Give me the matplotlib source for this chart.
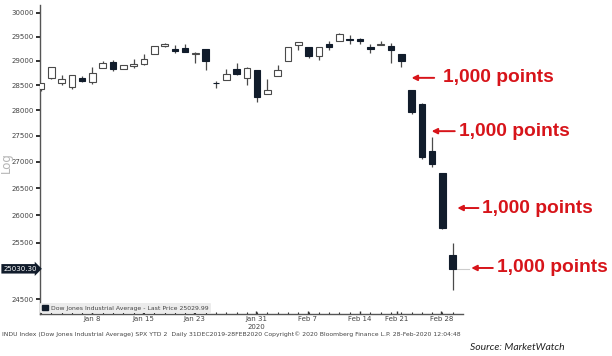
import matplotlib
matplotlib.use("Agg")
import matplotlib.pyplot as plt
from matplotlib.patches import Patch
from matplotlib.ticker import NullLocator
from matplotlib.transforms import blended_transform_factory
import numpy as np

# ---------------- data (DJIA daily, 31 Dec 2019 - 28 Feb 2020) ----------------
dates = ["Dec 31", "Jan 2", "Jan 3", "Jan 6", "Jan 7", "Jan 8", "Jan 9", "Jan 10",
         "Jan 13", "Jan 14", "Jan 15", "Jan 16", "Jan 17", "Jan 21", "Jan 22",
         "Jan 23", "Jan 24", "Jan 27", "Jan 28", "Jan 29", "Jan 30", "Jan 31",
         "Feb 3", "Feb 4", "Feb 5", "Feb 6", "Feb 7", "Feb 10", "Feb 11", "Feb 12",
         "Feb 13", "Feb 14", "Feb 18", "Feb 19", "Feb 20", "Feb 21", "Feb 24",
         "Feb 25", "Feb 26", "Feb 27", "Feb 28"]
opens = [28415, 28639, 28553, 28466, 28639, 28556, 28852, 28977, 28833, 28895,
         28940, 29132, 29313, 29239, 29265, 29145, 29236, 28542, 28598, 28820,
         28640, 28813, 28320, 28696, 28996, 29325, 29287, 29095, 29337, 29407,
         29458, 29440, 29280, 29330, 29298, 29145, 28403, 28116, 27208, 26779,
         25275]
highs = [28547, 28873, 28716, 28708, 28686, 28866, 28988, 29009, 28907, 29031,
         29128, 29300, 29374, 29315, 29341, 29187, 29236, 28592, 28836, 28945,
         28880, 28813, 28630, 28903, 29291, 29380, 29287, 29277, 29415, 29569,
         29528, 29459, 29337, 29405, 29371, 29145, 28403, 28135, 27480, 26779,
         25491]
lows = [28376, 28628, 28500, 28419, 28565, 28523, 28844, 28789, 28820, 28850,
        28905, 29132, 29290, 29155, 29187, 28962, 28815, 28440, 28598, 28714,
        28505, 28170, 28320, 28696, 28996, 29216, 29057, 29006, 29219, 29407,
        29345, 29334, 29154, 29320, 28943, 28877, 27921, 27051, 26893, 25753,
        24660]
closes = [28538, 28869, 28635, 28703, 28584, 28745, 28957, 28824, 28907, 28940,
          29030, 29298, 29348, 29196, 29186, 29160, 28990, 28536, 28723, 28734,
          28859, 28256, 28400, 28808, 29291, 29380, 29103, 29277, 29276, 29551,
          29423, 29398, 29232, 29348, 29220, 28992, 27961, 27081, 26958, 25767,
          25030.30]

ytick_values = [24500, 25500, 26000, 26500, 27000, 27500, 28000, 28500, 29000, 29500, 30000]
ytick_labels = [str(v) for v in ytick_values]
xtick_labels = ["Jan 8", "Jan 15", "Jan 23", "Jan 31", "Feb 7", "Feb 14", "Feb 21", "Feb 28"]
xtick_pos = [4.95, 9.9, 14.9, 20.9, 25.9, 31.0, 34.6, 38.9]
year_label = "2020"

last_price_label = "25030.30"
legend_label = "Dow Jones Industrial Average - Last Price 25029.99"
footer = ("INDU Index (Dow Jones Industrial Average) SPX YTD 2  Daily 31DEC2019-28FEB2020 "
          "Copyright\u00a9 2020 Bloomberg Finance L.P. 28-Feb-2020 12:04:48")

# annotation arrows: (head x, tail x, text x, level)
ann_head = [36.0, 37.95, 40.45, 41.8]
ann_tail = [38.2, 40.2, 42.5, 43.9]
ann_text = [39.05, 40.6, 42.85, 44.35]
ann_level = [28650, 27590, 26130, 25045]
ann_label = "1,000 points"

# ---------------- styling ----------------
DARK = "#111c2b"
EDGE = "#4a4a4a"
RED = "#d7141a"

fig = plt.figure(figsize=(6.12, 3.56), dpi=100)
ax = fig.add_axes([40 / 612, 1 - 314 / 356, (463 - 40) / 612, (314 - 5) / 356])

x = np.arange(len(dates))
o = np.array(opens, float)
h = np.array(highs, float)
l = np.array(lows, float)
c = np.array(closes, float)
up = c >= o

ax.set_yscale("log")
ax.vlines(x, l, h, color=EDGE, lw=0.9, zorder=2)
bottoms = np.minimum(o, c)
heights = np.maximum(np.abs(c - o), 6)
ax.bar(x[up], heights[up], bottom=bottoms[up], width=0.64,
       facecolor="white", edgecolor=EDGE, linewidth=0.8, zorder=3)
ax.bar(x[~up], heights[~up], bottom=bottoms[~up], width=0.64,
       facecolor=DARK, edgecolor=DARK, linewidth=0.8, zorder=3)

# last price line
ax.plot([x[-1] + 0.35, x[-1] + 1.6], [c[-1], c[-1]], color="#cccccc", lw=0.8,
        clip_on=False, zorder=1)

ax.set_xlim(-0.1, 41.0)
ax.set_ylim(24243, 30165)
ax.set_yticks(ytick_values, ytick_labels)
ax.yaxis.set_minor_locator(NullLocator())
ax.tick_params(axis="y", direction="out", length=3, width=1.3, color="#222222",
               labelsize=5, labelcolor="#444444", pad=1.5)

ax.set_xticks(xtick_pos, xtick_labels)
ax.set_xticks(x, minor=True)
ax.tick_params(axis="x", which="major", direction="in", length=2.5, width=1,
               color="#333333", labelsize=5, labelcolor="#444444", pad=1.5)
ax.tick_params(axis="x", which="minor", direction="in", length=1.5, width=0.8,
               color="#333333")

for s in ["top", "right"]:
    ax.spines[s].set_visible(False)
for s in ["left", "bottom"]:
    ax.spines[s].set_color("#555555")
    ax.spines[s].set_linewidth(1.0)

# year label under Jan 31
ax.text(xtick_pos[3], 1 - 327 / 356, year_label,
        transform=blended_transform_factory(ax.transData, fig.transFigure),
        ha="center", va="center", fontsize=5, color="#444444")

# last price tag on y axis
ax.text(-0.008, c[-1], last_price_label,
        transform=blended_transform_factory(ax.transAxes, ax.transData),
        ha="right", va="center", fontsize=5, color="white",
        bbox=dict(boxstyle="rarrow,pad=0.25", fc=DARK, ec="none"), clip_on=False)

# "Log" axis label
fig.text(6 / 612, 1 - 163 / 356, "Log", rotation=90, ha="center", va="center",
         fontsize=8.5, color="#b5b5b5")

# legend
leg = ax.legend(handles=[Patch(facecolor=DARK, edgecolor=DARK, label=legend_label)],
                loc="lower left", bbox_to_anchor=(0.0, 0.003), fontsize=4.4,
                frameon=True, fancybox=True, handlelength=0.9, handleheight=0.9,
                handletextpad=0.6, borderpad=0.35, borderaxespad=0.0)
leg.get_frame().set_facecolor("#ececec")
leg.get_frame().set_edgecolor("none")
leg.get_frame().set_alpha(1)
for t in leg.get_texts():
    t.set_color("#444444")

# annotations
for hx, tx, sx, lv in zip(ann_head, ann_tail, ann_text, ann_level):
    ax.annotate("", xy=(hx, lv), xytext=(tx, lv), annotation_clip=False,
                arrowprops=dict(arrowstyle="-|>", color=RED, lw=1.4,
                                mutation_scale=8, shrinkA=0, shrinkB=0))
    ax.text(sx, lv, ann_label, ha="left", va="center", color=RED,
            fontsize=13.8, fontweight="bold",
            family=["Liberation Sans Narrow", "Liberation Sans"], clip_on=False)

# footer and source
fig.text(2 / 612, 1 - 334 / 356, footer, ha="left", va="center", fontsize=4.4,
         color="#444444")
fig.text(470 / 612, 1 - 348 / 356, "Source: MarketWatch", ha="left", va="center",
         fontsize=7.5, style="italic", family=["Lato", "DejaVu Sans"], color="#222222")

fig.savefig("out.png", dpi=100)
